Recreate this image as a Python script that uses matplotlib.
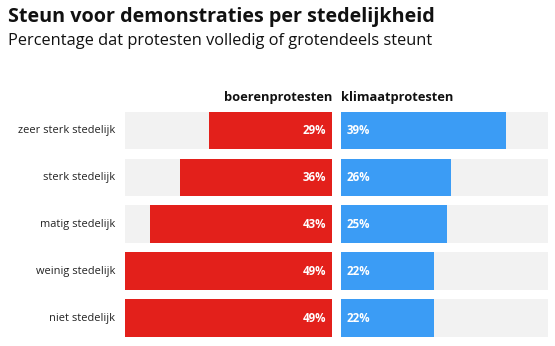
import matplotlib
matplotlib.use("Agg")
import matplotlib.pyplot as plt

plt.rcParams["font.family"] = ["Open Sans", "DejaVu Sans"]

# Data
categorieen = ["zeer sterk stedelijk", "sterk stedelijk", "matig stedelijk",
               "weinig stedelijk", "niet stedelijk"]
boeren = [29, 36, 43, 49, 49]
klimaat = [39, 26, 25, 22, 22]
schaal_max = 49

ROOD = "#e3201b"
BLAUW = "#3b9cf5"
GRIJS = "#f2f2f2"

fig = plt.figure(figsize=(5.55, 3.46), dpi=100)
fig.patch.set_facecolor("white")

ax_l = fig.add_axes([125 / 555, 0.013, 207 / 555, 0.678])
ax_r = fig.add_axes([341 / 555, 0.013, 207 / 555, 0.678])

y = list(range(len(categorieen)))

for ax in (ax_l, ax_r):
    ax.barh(y, [schaal_max] * len(y), height=0.8, color=GRIJS)
    ax.set_ylim(len(y) - 0.5, -0.5)
    ax.set_xlim(0, schaal_max)
    ax.axis("off")

ax_l.barh(y, boeren, height=0.8, color=ROOD)
ax_l.invert_xaxis()
ax_r.barh(y, klimaat, height=0.8, color=BLAUW)

for i, v in enumerate(boeren):
    ax_l.text(1.3, i, f"{v}%", ha="right", va="center", color="white",
              fontsize=8.3, fontweight="bold")
for i, v in enumerate(klimaat):
    ax_r.text(1.3, i, f"{v}%", ha="left", va="center", color="white",
              fontsize=8.3, fontweight="bold")

for i, cat in enumerate(categorieen):
    ax_l.text(schaal_max + 2.3, i, cat, ha="right", va="center",
              color="#222222", fontsize=7.9)

fig.text(332 / 555, 1 - 97 / 346, "boerenprotesten", ha="right", va="center",
         fontsize=9.3, fontweight="bold", color="#111111")
fig.text(341 / 555, 1 - 97 / 346, "klimaatprotesten", ha="left", va="center",
         fontsize=9.3, fontweight="bold", color="#111111")

fig.text(8 / 555, 1 - 17 / 346, "Steun voor demonstraties per stedelijkheid",
         ha="left", va="center", fontsize=14.2, fontweight="bold", color="#111111")
fig.text(8 / 555, 1 - 41 / 346, "Percentage dat protesten volledig of grotendeels steunt",
         ha="left", va="center", fontsize=11.8, color="#111111")

fig.savefig("out.png", dpi=100)
